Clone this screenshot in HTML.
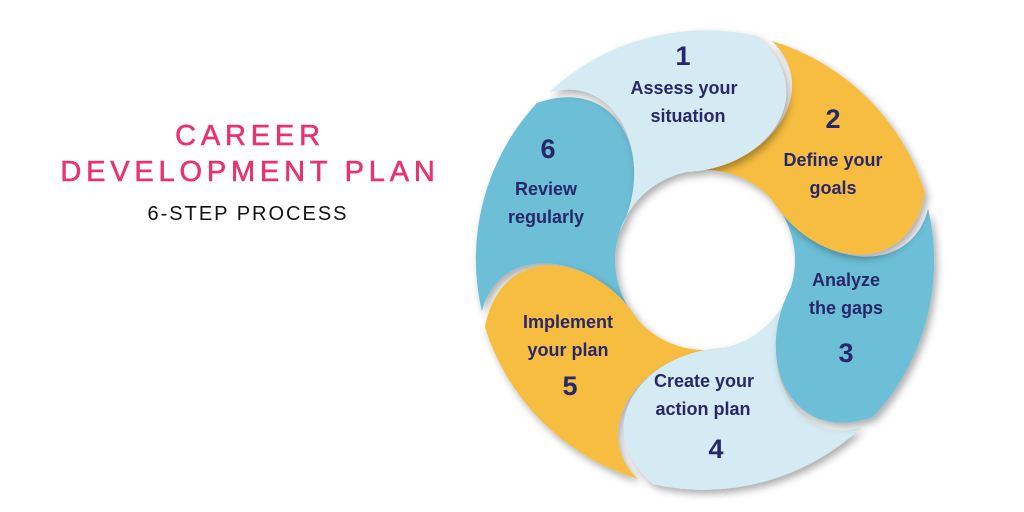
<!DOCTYPE html>
<html><head><meta charset="utf-8"><style>
body{margin:0;width:1024px;height:512px;background:#fff;overflow:hidden;font-family:"Liberation Sans",sans-serif}
svg{position:absolute;left:0;top:0}
</style></head><body>
<svg id="s" width="1024" height="512" viewBox="0 0 1024 512">
<defs><filter id="sh" x="-20%" y="-20%" width="140%" height="140%"><feDropShadow dx="3" dy="4" stdDeviation="4" flood-color="#000" flood-opacity="0.33"/></filter></defs>
<g id="ring"></g>
<g font-family="Liberation Sans, sans-serif" font-weight="bold" fill="#27276a" text-anchor="middle">
<g font-size="27"><text x="683" y="65">1</text><text x="833" y="128">2</text><text x="846" y="362">3</text><text x="716" y="458">4</text><text x="570" y="395">5</text><text x="548" y="158">6</text></g>
<g font-size="18">
<text x="684" y="94">Assess your</text><text x="688" y="122">situation</text>
<text x="833" y="166">Define your</text><text x="833" y="194">goals</text>
<text x="846" y="286">Analyze</text><text x="846" y="314">the gaps</text>
<text x="704" y="387">Create your</text><text x="703" y="415">action plan</text>
<text x="568" y="328">Implement</text><text x="568" y="356">your plan</text>
<text x="546" y="195">Review</text><text x="546" y="223">regularly</text>
</g></g>
<g font-family="Liberation Sans, sans-serif" text-anchor="middle">
<text x="250" y="145" font-size="29" fill="#e8336e" stroke="#e8336e" stroke-width="0.6" letter-spacing="4.8">CAREER</text>
<text x="250" y="181" font-size="29" fill="#e8336e" stroke="#e8336e" stroke-width="0.6" letter-spacing="4.8">DEVELOPMENT PLAN</text>
<text x="248" y="220" font-size="20" fill="#111" letter-spacing="2">6-STEP PROCESS</text>
</g>
</svg>
<script>
var cx=705,cy=260,R=230,r=90;
function p(rad,a){a=a*Math.PI/180;return (cx+rad*Math.sin(a)).toFixed(1)+","+(cy-rad*Math.cos(a)).toFixed(1);}
var b=[313,13,73,133,193,253,313];
var cols=["#d4ebf3","#f7bd3f","#6cbfd7","#d4ebf3","#f7bd3f","#6cbfd7"];
var g=document.getElementById("ring"),h="";
var order=[5,4,3,2,1,0];
for(var k=0;k<6;k++){var i=order[k];var a0=b[i],a1=b[i+1];
var d="M"+p(R-1,a0+4)+" A"+R+","+R+" 0 0 1 "+p(R,a1)+
" C"+p(205,a1+22)+" "+p(112,a1+22)+" "+p(r,a1-25)+
" A"+r+","+r+" 0 0 0 "+p(r,a0-25)+
" C"+p(112,a0+22)+" "+p(207,a0+22)+" "+p(R-1,a0+4)+" Z";
h+='<path d="'+d+'" fill="'+cols[i]+'" filter="url(#sh)"/>';}
g.innerHTML=h;
</script>
</body></html>
